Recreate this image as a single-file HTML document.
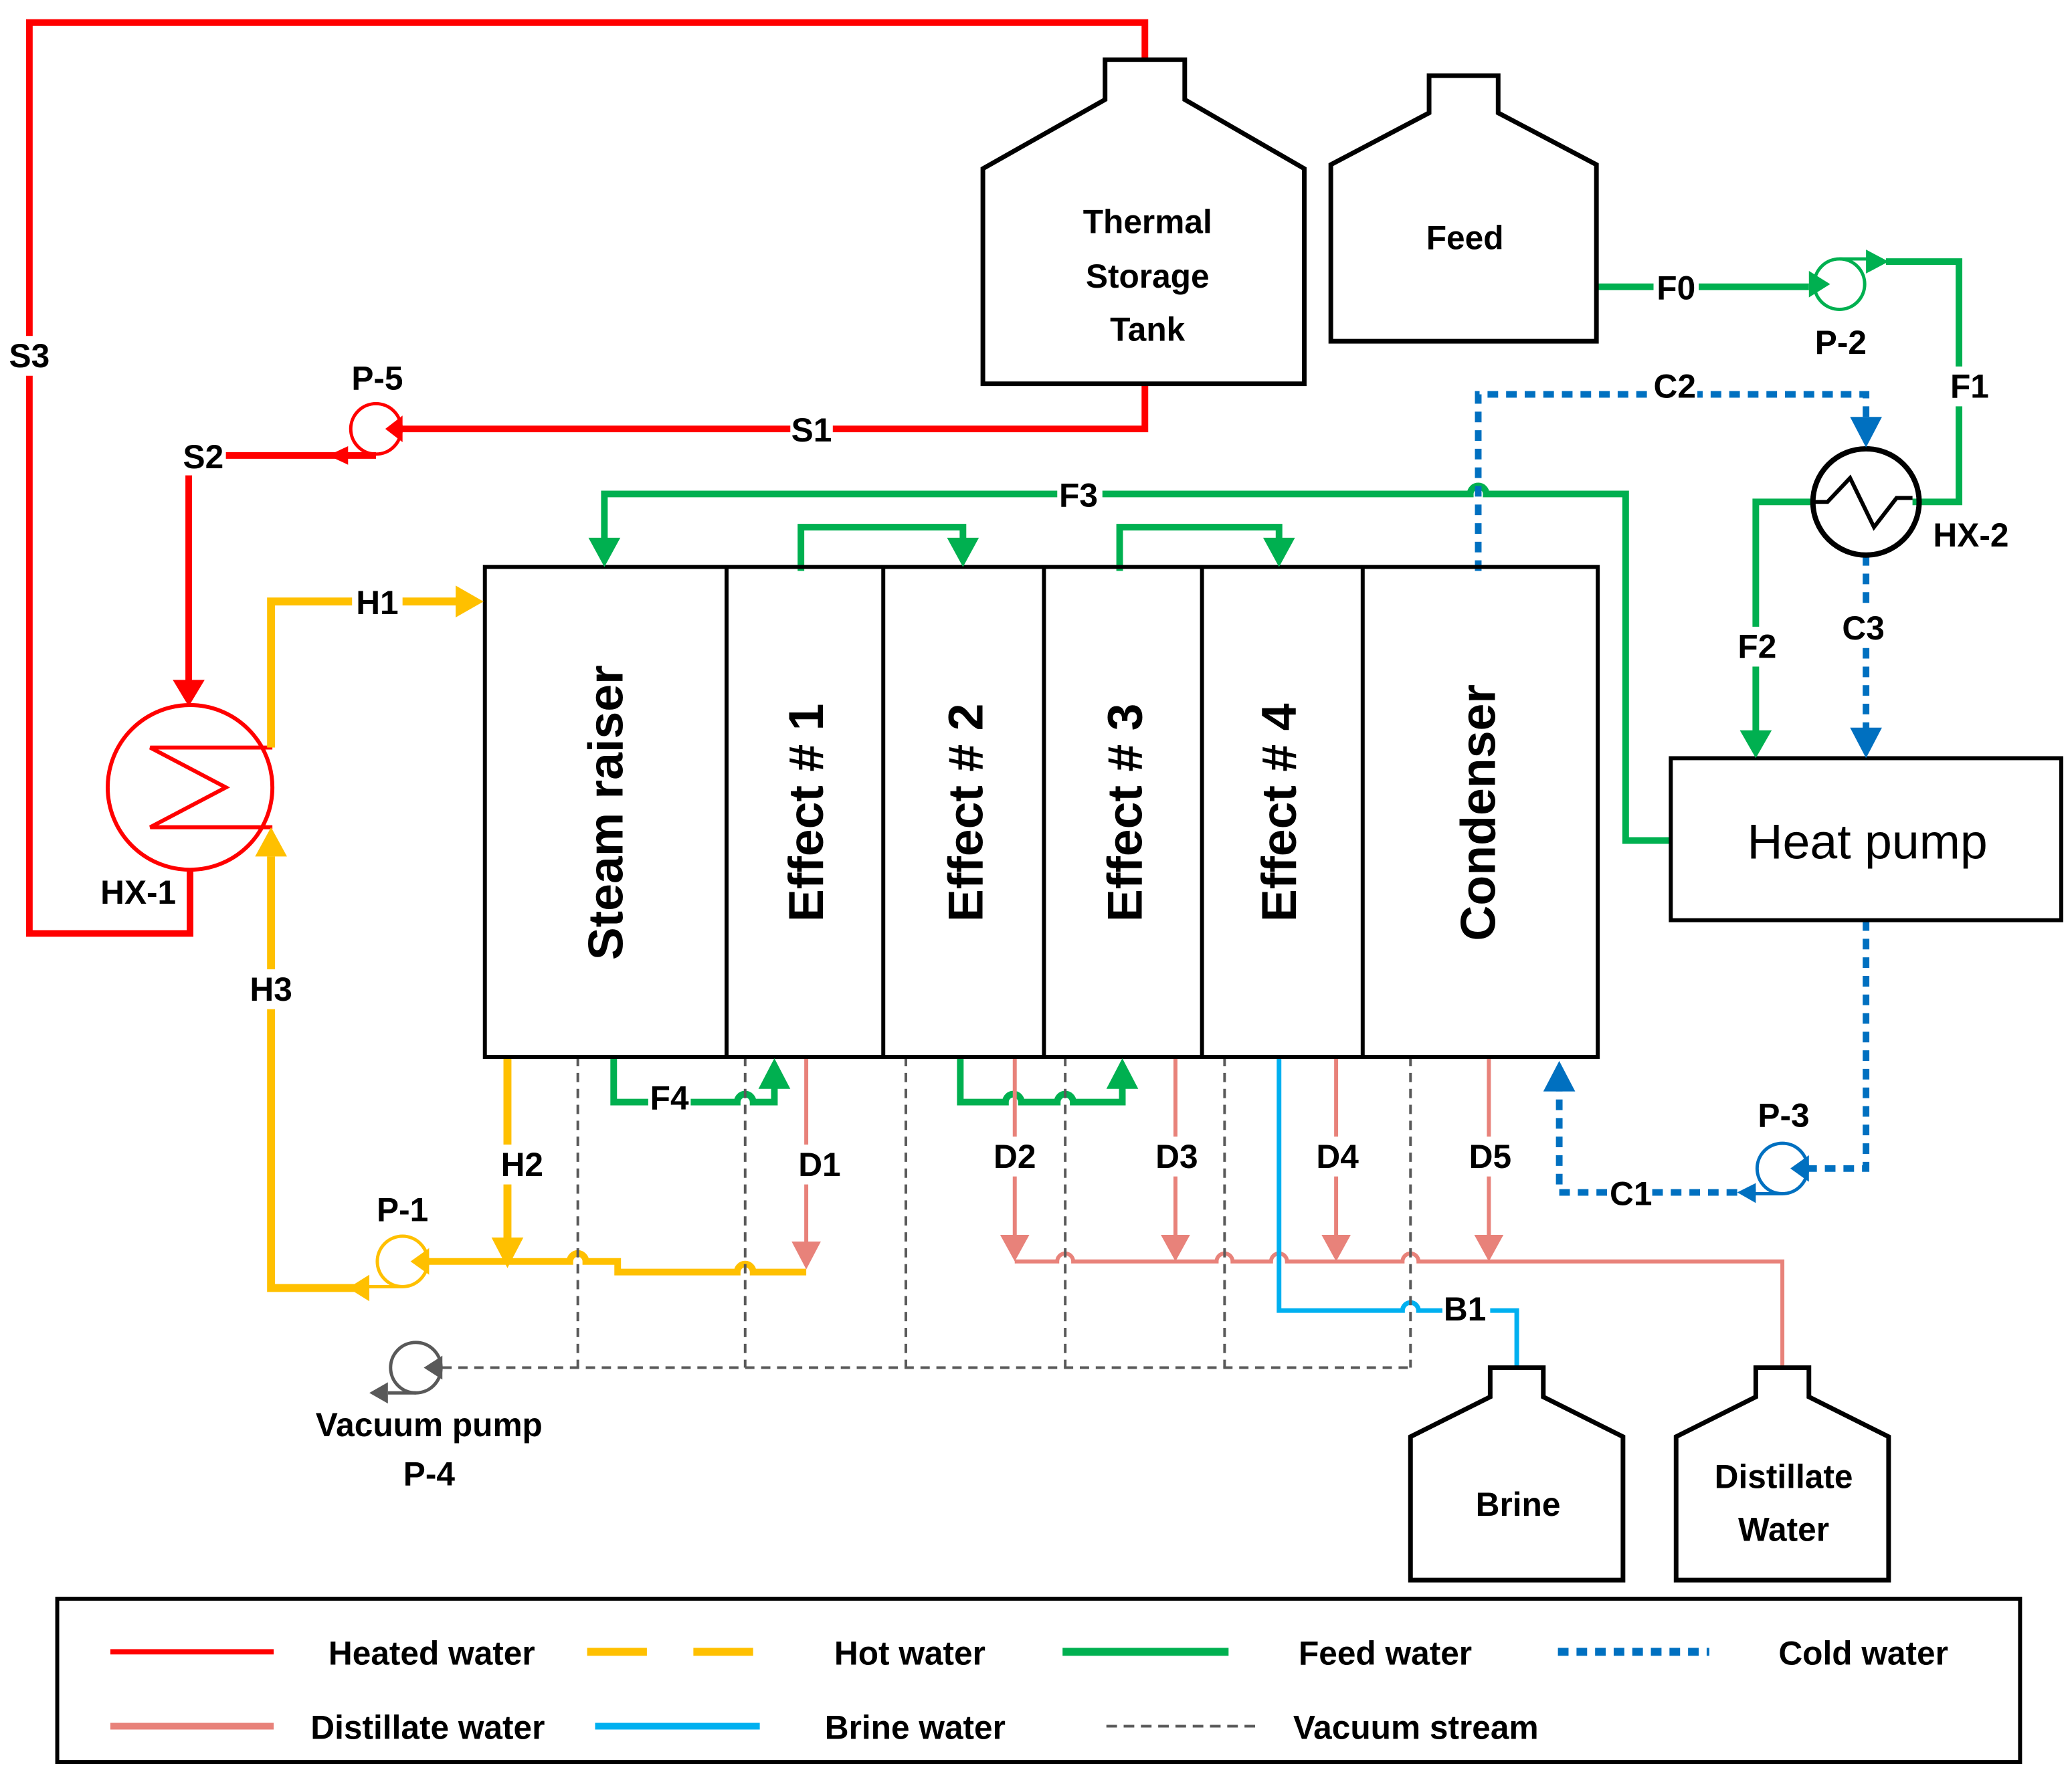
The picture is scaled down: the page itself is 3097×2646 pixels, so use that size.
<!DOCTYPE html>
<html><head><meta charset="utf-8"><style>
html,body{margin:0;padding:0;background:#fff}
svg{display:block}
text{font-family:"Liberation Sans","DejaVu Sans",sans-serif;font-weight:bold;fill:#000;text-anchor:middle;dominant-baseline:central}
</style></head><body>
<svg width="3097" height="2646" viewBox="0 0 1560 1333" xmlns="http://www.w3.org/2000/svg">
<rect width="1560" height="1333" fill="#fff"/>
<g fill="none" stroke-linejoin="miter">
<!-- Red heated water -->
<path d="M862,45 V17 H22 V703 H143 V655" stroke="#ff0000" stroke-width="5"/>
<path d="M862,289 V323 H303" stroke="#ff0000" stroke-width="5"/>
<path d="M283,343 H142 V515" stroke="#ff0000" stroke-width="5"/>
<circle cx="283" cy="323" r="19" stroke="#ff0000" stroke-width="2.5"/>
<circle cx="143" cy="593" r="62" stroke="#ff0000" stroke-width="3"/>
<path d="M205,563 H113 L170,593 L113,623 H205" stroke="#ff0000" stroke-width="3"/>
<!-- Yellow hot water -->
<path d="M204,563 V453 H345" stroke="#ffc000" stroke-width="6"/>
<path d="M204,645 V970 H270" stroke="#ffc000" stroke-width="6"/>
<path d="M382,796 V935" stroke="#ffc000" stroke-width="6"/>
<path d="M323,950 H429 a6,6 0 0 1 12,0 H465 V958 H555 a6,6 0 0 1 12,0 H607" stroke="#ffc000" stroke-width="5"/>
<circle cx="303" cy="950" r="19" stroke="#ffc000" stroke-width="2.5"/>
<path d="M303,969 H270" stroke="#ffc000" stroke-width="2.5"/>
<!-- Green feed water -->
<path d="M1202,216 H1362" stroke="#00b050" stroke-width="5"/>
<circle cx="1385" cy="214" r="19" stroke="#00b050" stroke-width="2.5"/>
<path d="M1385,195 H1410" stroke="#00b050" stroke-width="2.5"/>
<path d="M1420,197 H1475 V378 H1440" stroke="#00b050" stroke-width="5"/>
<path d="M1366,378 H1322 V555" stroke="#00b050" stroke-width="5"/>
<path d="M1258,633 H1224 V372 H1119 a6,6 0 0 0 -12,0 H455 V410" stroke="#00b050" stroke-width="5"/>
<path d="M603,430 V397 H725 V410" stroke="#00b050" stroke-width="5"/>
<path d="M843,430 V397 H963 V410" stroke="#00b050" stroke-width="5"/>
<path d="M462,796 V830 H555 a6,6 0 0 1 12,0 H583 V815" stroke="#00b050" stroke-width="5"/>
<path d="M723,796 V830 H757 a6,6 0 0 1 12,0 H796 a6,6 0 0 1 12,0 H845 V815" stroke="#00b050" stroke-width="5"/>
<!-- Blue cold water dotted -->
<path d="M1113,430 V297 H1405 V318" stroke="#0070c0" stroke-width="5" stroke-dasharray="8,6"/>
<path d="M1405,418 V553" stroke="#0070c0" stroke-width="5" stroke-dasharray="8,6"/>
<path d="M1405,693 V880 H1362" stroke="#0070c0" stroke-width="5" stroke-dasharray="8,6"/>
<path d="M1322,898 H1174 V818" stroke="#0070c0" stroke-width="5" stroke-dasharray="8,6"/>
<circle cx="1342" cy="880" r="19" stroke="#0070c0" stroke-width="2.5"/>
<path d="M1342,899 H1320" stroke="#0070c0" stroke-width="2.5"/>
<!-- HX-2 -->
<circle cx="1405" cy="378" r="40" stroke="#000" stroke-width="4"/>
<path d="M1366,378 H1376 L1393,360 L1411,397 L1428,375 H1440" stroke="#000" stroke-width="3"/>
<!-- Distillate pink -->
<g stroke="#e8827a" stroke-width="3">
<path d="M607,796 V940"/>
<path d="M764,796 V935"/><path d="M885,796 V935"/><path d="M1006,796 V935"/><path d="M1121,796 V935"/>
<path d="M764,950 H796 a6,6 0 0 1 12,0 H916 a6,6 0 0 1 12,0 H957 a6,6 0 0 1 12,0 H1056 a6,6 0 0 1 12,0 H1342 V1030"/>
</g>
<!-- Brine -->
<path d="M963,796 V987 H1056 a6,6 0 0 1 12,0 H1142 V1030" stroke="#00b0f0" stroke-width="3.5"/>
<!-- Vacuum dashed -->
<g stroke="#595959" stroke-width="2" stroke-dasharray="7,5">
<path d="M435,796 V1030"/><path d="M561,796 V1030"/><path d="M682,796 V1030"/><path d="M802,796 V1030"/><path d="M922,796 V1030"/><path d="M1062,796 V1030"/>
<path d="M333,1030 H1062"/>
</g>
<circle cx="313" cy="1030" r="19" stroke="#595959" stroke-width="2.5"/>
<path d="M313,1049 H292" stroke="#595959" stroke-width="2.5"/>
<!-- Main box -->
<rect x="365" y="427" width="838" height="369" stroke="#000" stroke-width="3"/>
<path d="M547,427V796M665,427V796M786,427V796M905,427V796M1026,427V796" stroke="#000" stroke-width="3"/>
<rect x="1258" y="571" width="294" height="122" stroke="#000" stroke-width="3"/>
<!-- Tanks -->
<path d="M832,45 H892 V75 L982,127 V289 H740 V127 L832,75 Z" stroke="#000" stroke-width="3.5"/>
<path d="M1076,57 H1128 V85 L1202,124 V257 H1002 V124 L1076,85 Z" stroke="#000" stroke-width="3.5"/>
<path d="M1122,1030 H1162 V1052 L1222,1082 V1190 H1062 V1082 L1122,1052 Z" stroke="#000" stroke-width="3.5"/>
<path d="M1322,1030 H1362 V1052 L1422,1082 V1190 H1262 V1082 L1322,1052 Z" stroke="#000" stroke-width="3.5"/>
<!-- Legend -->
<rect x="43" y="1204" width="1478" height="123" stroke="#000" stroke-width="3"/>
<path d="M83,1244 H206" stroke="#ff0000" stroke-width="4"/>
<path d="M442,1244 H567" stroke="#ffc000" stroke-width="6" stroke-dasharray="45,35"/>
<path d="M800,1244 H925" stroke="#00b050" stroke-width="6"/>
<path d="M1173,1244 H1287" stroke="#0070c0" stroke-width="6" stroke-dasharray="8,6"/>
<path d="M83,1300 H206" stroke="#e8827a" stroke-width="5"/>
<path d="M448,1300 H572" stroke="#00b0f0" stroke-width="5"/>
<path d="M833,1300 H948" stroke="#595959" stroke-width="2" stroke-dasharray="8,5"/>
</g>
<!-- arrowheads -->
<g stroke="none">
<polygon points="130,512 154,512 142,532" fill="#ff0000"/>
<polygon points="262,336 262,350 247,343" fill="#ff0000"/>
<polygon points="303,313 303,333 290,323" fill="#ff0000"/>
<polygon points="343,441 343,465 364,453" fill="#ffc000"/>
<polygon points="192,645 216,645 204,623" fill="#ffc000"/>
<polygon points="278,960 278,980 262,970" fill="#ffc000"/>
<polygon points="370,932 394,932 382,955" fill="#ffc000"/>
<polygon points="323,940 323,960 309,950" fill="#ffc000"/>
<polygon points="1362,204 1362,224 1378,214" fill="#00b050"/>
<polygon points="1405,188 1405,206 1422,197" fill="#00b050"/>
<polygon points="1310,550 1334,550 1322,571" fill="#00b050"/>
<polygon points="443,405 467,405 455,427" fill="#00b050"/>
<polygon points="713,405 737,405 725,427" fill="#00b050"/>
<polygon points="951,405 975,405 963,427" fill="#00b050"/>
<polygon points="571,820 595,820 583,797" fill="#00b050"/>
<polygon points="833,820 857,820 845,797" fill="#00b050"/>
<polygon points="1393,314 1417,314 1405,337" fill="#0070c0"/>
<polygon points="1393,548 1417,548 1405,571" fill="#0070c0"/>
<polygon points="1162,822 1186,822 1174,799" fill="#0070c0"/>
<polygon points="1362,870 1362,890 1348,880" fill="#0070c0"/>
<polygon points="1322,891 1322,906 1308,898" fill="#0070c0"/>
<g fill="#e8827a">
<polygon points="596,935 618,935 607,956"/>
<polygon points="753,930 775,930 764,950"/>
<polygon points="874,930 896,930 885,950"/>
<polygon points="995,930 1017,930 1006,950"/>
<polygon points="1110,930 1132,930 1121,950"/>
</g>
<polygon points="333,1021 333,1039 319,1030" fill="#595959"/>
<polygon points="292,1041 292,1057 278,1049" fill="#595959"/>
</g>
<!-- Labels with white background -->
<g fill="#fff" stroke="none">
<rect x="8" y="253" width="28" height="30"/>
<rect x="595" y="310" width="32" height="28"/>
<rect x="138" y="330" width="32" height="28"/>
<rect x="265" y="440" width="38" height="28"/>
<rect x="187" y="730" width="34" height="30"/>
<rect x="375" y="862" width="36" height="30"/>
<rect x="488" y="813" width="32" height="28"/>
<rect x="599" y="862" width="36" height="30"/>
<rect x="745" y="856" width="38" height="30"/>
<rect x="867" y="856" width="38" height="30"/>
<rect x="988" y="856" width="38" height="30"/>
<rect x="1103" y="856" width="38" height="30"/>
<rect x="1086" y="972" width="36" height="28"/>
<rect x="1212" y="885" width="32" height="28"/>
<rect x="1245" y="203" width="34" height="28"/>
<rect x="1244" y="278" width="34" height="26"/>
<rect x="796" y="359" width="34" height="28"/>
<rect x="1466" y="276" width="34" height="30"/>
<rect x="1306" y="472" width="34" height="30"/>
<rect x="1386" y="458" width="34" height="30"/>
</g>
<g font-size="25">
<text x="22" y="268">S3</text>
<text x="611" y="324">S1</text>
<text x="153" y="344">S2</text>
<text x="284" y="285">P-5</text>
<text x="284" y="454">H1</text>
<text x="104" y="672">HX-1</text>
<text x="204" y="745">H3</text>
<text x="303" y="911">P-1</text>
<text x="393" y="877">H2</text>
<text x="504" y="827">F4</text>
<text x="617" y="877">D1</text>
<text x="764" y="871">D2</text>
<text x="886" y="871">D3</text>
<text x="1007" y="871">D4</text>
<text x="1122" y="871">D5</text>
<text x="1103" y="986">B1</text>
<text x="1228" y="899">C1</text>
<text x="1343" y="840">P-3</text>
<text x="1262" y="217">F0</text>
<text x="1386" y="258">P-2</text>
<text x="1261" y="291">C2</text>
<text x="1483" y="291">F1</text>
<text x="812" y="373">F3</text>
<text x="1484" y="403">HX-2</text>
<text x="1323" y="487">F2</text>
<text x="1403" y="473">C3</text>
<text x="864" y="167">Thermal</text>
<text x="864" y="208">Storage</text>
<text x="864" y="248">Tank</text>
<text x="1103" y="179">Feed</text>
<text x="323" y="1073">Vacuum pump</text>
<text x="323" y="1110">P-4</text>
<text x="1143" y="1133">Brine</text>
<text x="1343" y="1112">Distillate</text>
<text x="1343" y="1152">Water</text>
<text x="325" y="1245">Heated water</text>
<text x="685" y="1245">Hot water</text>
<text x="1043" y="1245">Feed water</text>
<text x="1403" y="1245">Cold water</text>
<text x="322" y="1301">Distillate water</text>
<text x="689" y="1301">Brine water</text>
<text x="1066" y="1301">Vacuum stream</text>
</g>
<text x="1406" y="634" font-size="37" style="font-weight:normal">Heat pump</text>
<g font-size="37" style="font-weight:normal">
<text transform="translate(456,612) rotate(-90)">Steam raiser</text>
<text transform="translate(607,612) rotate(-90)">Effect # 1</text>
<text transform="translate(727,612) rotate(-90)">Effect # 2</text>
<text transform="translate(847,612) rotate(-90)">Effect # 3</text>
<text transform="translate(963,612) rotate(-90)">Effect # 4</text>
<text transform="translate(1113,612) rotate(-90)">Condenser</text>
</g>
</svg>
</body></html>
